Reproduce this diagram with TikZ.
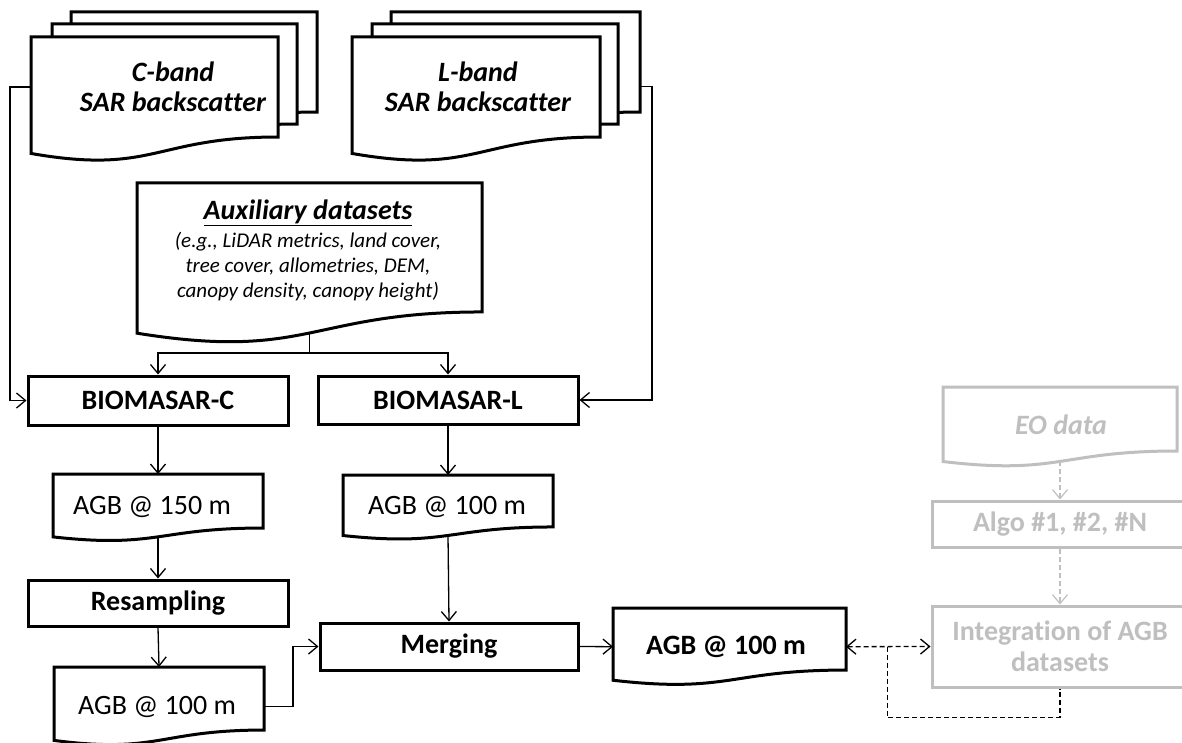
\documentclass[tikz,border=0pt]{standalone}
\usepackage{fontspec}
\setmainfont{Carlito}[Ligatures=NoCommon]
\usetikzlibrary{calc,arrows.meta}
\definecolor{lgray}{RGB}{191,191,191}
\newcommand{\docoutline}[2]{%
  \draw[#1] (#2.north west) -- (#2.north east) -- ($(#2.north east)!0.802!(#2.south east)$)
    .. controls ($(#2.north)!0.802!(#2.south)$) and ($(#2.north)!1.107!(#2.south)$) ..
    ($(#2.north west)!0.934!(#2.south west)$) -- cycle;
  \coordinate (#2-b) at ($(#2.north)!0.933!(#2.south)$);
}
\begin{document}
\begin{tikzpicture}[x=1pt,y=-1pt,
  doc/.style 2 args={minimum width=#1 pt, minimum height=#2 pt, inner sep=0pt, outer sep=0pt},
  docline/.style={draw=black, line width=3pt, fill=white},
  grayline/.style={draw=lgray, line width=3pt, fill=white},
  bx/.style={draw, line width=3pt, inner sep=0pt, fill=white, font=\bfseries\fontsize{28}{31}\selectfont, align=center},
  gbx/.style={bx, draw=lgray, text=lgray},
  tbi/.style={font=\bfseries\itshape\fontsize{28}{30}\selectfont, align=center},
  treg/.style={font=\fontsize{28}{30}\selectfont},
  arr/.style={line width=1.3pt, -{Straight Barb[length=9pt,width=15pt]}},
  garr/.style={draw=lgray, line width=1.2pt, dash pattern=on 5pt off 3pt, -{Straight Barb[length=9pt,width=15pt]}},
  dline/.style={line width=1.3pt, dash pattern=on 5pt off 3pt}
]
\useasboundingbox (0,0) rectangle (1182,743);

% C-band stack
\node[doc={246}{124.7}] (cbk) at (194,74.35) {};
\node[doc={245}{124.7}] (cbm) at (174.5,86.35) {};
\node[doc={247}{124.7}] (cbf) at (154.5,99.35) {};
\docoutline{docline}{cbk}
\docoutline{docline}{cbm}
\docoutline{docline}{cbf}
\node[tbi] (cbt) at (173,87) {C-band\\SAR backscatter};

% L-band stack
\node[doc={249}{124.7}] (lbk) at (515.5,74.35) {};
\node[doc={246}{124.7}] (lbm) at (495,86.35) {};
\node[doc={248}{124.7}] (lbf) at (476,99.35) {};
\docoutline{docline}{lbk}
\docoutline{docline}{lbm}
\docoutline{docline}{lbf}
\node[tbi] (lbt) at (478,87) {L-band\\SAR backscatter};

% Auxiliary
\node[doc={345}{160.8}] (aux) at (309.5,263.4) {};
\docoutline{docline}{aux}
\node[tbi] (auxt) at (308,213) {\underline{Auxiliary datasets}};
\node[font=\itshape\fontsize{21}{25}\selectfont, align=center] (auxd) at (308,267)
  {(e.g., LiDAR metrics, land cover,\\tree cover, allometries, DEM,\\canopy density, canopy height)};

% processing boxes
\node[bx, minimum width=260pt, minimum height=49pt] (bc) at (158,400.5) {BIOMASAR-C};
\node[bx, minimum width=260pt, minimum height=48pt] (bl) at (448,400) {BIOMASAR-L};
\node[bx, minimum width=260pt, minimum height=46pt] (res) at (158,603) {Resampling};
\node[bx, minimum width=258pt, minimum height=47pt] (merg) at (449,646.5) {Merging};

% AGB documents
\node[doc={210}{67.3}] (a150) at (158,507.7) {};
\docoutline{docline}{a150}
\node[treg] (a150t) at (152,507) {AGB @ 150 m};

\node[doc={210}{78.6}] (a100c) at (159,706.3) {};
\docoutline{docline}{a100c}
\node[treg] (a100ct) at (157,707) {AGB @ 100 m};

\node[doc={210}{64.8}] (a100l) at (448,507.4) {};
\docoutline{docline}{a100l}
\node[treg] (a100lt) at (447,507) {AGB @ 100 m};

\node[doc={233}{77.3}] (fin) at (729.5,646.7) {};
\docoutline{docline}{fin}
\node[treg, font=\bfseries\fontsize{28}{30}\selectfont] (fint) at (726,647) {AGB @ 100 m};

% gray part
\node[doc={234}{79.8}] (eo) at (1060,426.9) {};
\docoutline{grayline}{eo}
\node[tbi, text=lgray] (eot) at (1061,425) {EO data};
\node[gbx, minimum width=256pt, minimum height=46pt] (algo) at (1060,524) {Algo \#1, \#2, \#N};
\node[gbx, minimum width=256pt, minimum height=81pt] (integ) at (1060,646.5) {Integration of AGB\\datasets};

% connectors
\draw[arr] ($(cbf.north west)!0.4!(cbf.south west)$) -- ++(-21,0) |- (bc.west);
\draw[arr] ($(lbk.north east)!0.6!(lbk.south east)$) -- ++(12,0) |- (bl.east);
\draw[line width=1.3pt] (aux-b) -- ++(0,20) coordinate (split);
\draw[arr] (split) -| (bc.north);
\draw[arr] (split) -| (bl.north);
\draw[arr] (bc.south) -- (a150.north);
\draw[arr] (a150-b) -- (res.north);
\draw[arr] (res.south) -- (a100c.north);
\draw[arr] (a100c.east) -- ++(29,0) |- (merg.west);
\draw[arr] (bl.south) -- (a100l.north);
\draw[arr] (a100l-b) -- (merg.north);
\draw[arr] (merg.east) -- (fin.west);
\draw[dline, {Straight Barb[length=9pt,width=15pt]}-{Straight Barb[length=9pt,width=15pt]}] (fin.east) -- (integ.west);
\coordinate (jn) at ($(fin.east)!0.49!(integ.west)$);
\draw[dline] (jn) -- ++(0,71) -| (integ.south);
\draw[garr] (eo-b) -- (algo.north);
\draw[garr] (algo.south) -- (integ.north);
\end{tikzpicture}
\end{document}
